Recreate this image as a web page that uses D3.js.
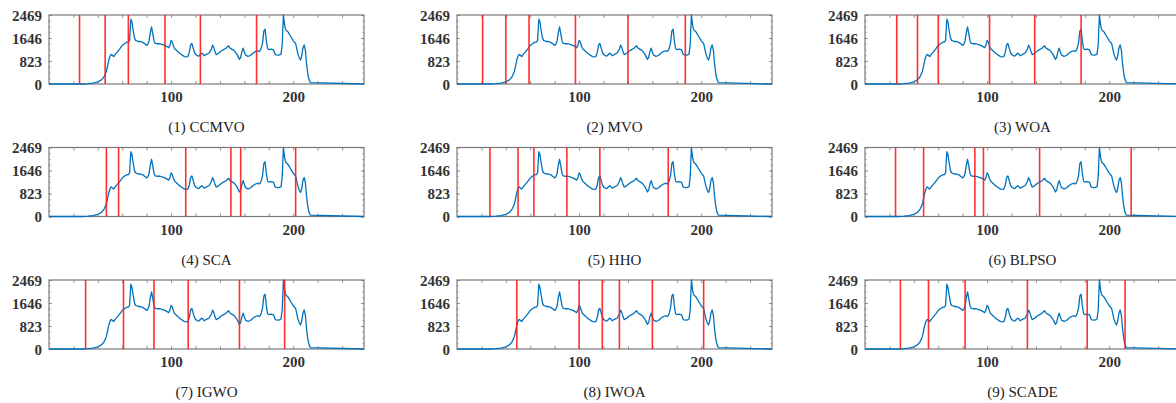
<!DOCTYPE html>
<html>
<head>
<meta charset="utf-8">
<script src="https://cdn.jsdelivr.net/npm/d3@7"></script>
<style>
  html, body { margin: 0; padding: 0; background: #fff; }
  svg { display: block; }
</style>
</head>
<body>
<svg id="chart" width="1176" height="403"></svg>
<script>
// ---------- data ----------
const panelTitles = ["(1) CCMVO", "(2) MVO", "(3) WOA", "(4) SCA", "(5) HHO", "(6) BLPSO", "(7) IGWO", "(8) IWOA", "(9) SCADE"];

const grayLevels = [0, 20, 28, 32, 36, 40, 43, 45, 47, 48, 49, 50, 51, 52, 53, 54, 56, 58, 60, 62, 64, 65, 66, 67, 68, 69, 70, 71, 73, 75, 77, 79, 80, 81, 82, 83, 84, 85, 86, 87, 89, 91, 93, 95, 97, 98, 99, 100, 101, 102, 103, 105, 107, 109, 111, 113, 114, 115, 116, 117, 118, 119, 120, 122, 123, 125, 126, 127, 129, 131, 133, 134, 135, 136, 137, 139, 141, 143, 145, 147, 148, 150, 152, 154, 156, 157, 158, 159, 160, 161, 163, 165, 167, 169, 171, 172, 173, 174, 175, 176, 177, 178, 179, 180, 182, 184, 185, 186, 188, 190, 191, 192, 193, 194, 196, 198, 200, 202, 203, 204, 205, 206, 207, 208, 209, 210, 211, 212, 213, 214, 258];
const pixelCounts = [0, 0, 0, 10, 30, 80, 150, 250, 450, 650, 860, 1000, 1060, 1020, 980, 1050, 1150, 1260, 1380, 1450, 1500, 1500, 1560, 2320, 2200, 1900, 1650, 1560, 1520, 1520, 1480, 1420, 1380, 1420, 1550, 1850, 2040, 1800, 1550, 1450, 1440, 1440, 1410, 1380, 1330, 1300, 1380, 1560, 1500, 1350, 1260, 1180, 1100, 1040, 980, 970, 1000, 1150, 1400, 1450, 1300, 1150, 1060, 1000, 1010, 1100, 1080, 1010, 1060, 1100, 1250, 1390, 1300, 1150, 1050, 1100, 1180, 1230, 1280, 1370, 1300, 1240, 1180, 1060, 880, 950, 1150, 1280, 1150, 1030, 990, 1020, 1100, 1160, 1190, 1160, 1200, 1300, 1500, 1900, 1960, 1550, 1270, 1230, 1250, 1220, 1080, 1040, 1030, 1060, 1400, 2469, 2100, 1930, 1850, 1700, 1550, 1450, 1250, 1060, 930, 860, 1000, 1300, 1395, 1200, 700, 350, 150, 50, 0, 0];

const thrCCMVO = [25, 46, 65, 95, 124, 170];
const thrMVO   = [21, 40, 59, 97, 140, 187];
const thrWOA   = [26, 43, 60, 102, 139, 177];
const thrSCA   = [47, 57, 112, 149, 157, 202];
const thrHHO   = [27, 50, 63, 90, 117, 173];
const thrBLPSO = [25, 48, 90, 97, 143, 218];
const thrIGWO  = [30, 61, 86, 114, 156, 193];
const thrIWOA  = [49, 100, 119, 133, 160, 202];
const thrSCADE = [29, 52, 82, 133, 182, 213];
const thresholdSets = [thrCCMVO, thrMVO, thrWOA, thrSCA, thrHHO, thrBLPSO, thrIGWO, thrIWOA, thrSCADE];

const yTickValues = [0, 823, 1646, 2469];
const xTickLabels = [100, 200];

// ---------- layout ----------
const colLeft = [49, 457, 865];
const rowTop = [15, 147.5, 280];
const pw = 315, ph = 69;

const svg = d3.select("#chart");
const x = d3.scaleLinear().domain([0, 258]).range([0, pw]);
const y = d3.scaleLinear().domain([0, 2469]).range([ph, 0]);

const line = d3.line().x((d, i) => x(grayLevels[i])).y(d => y(d));
const axisColor = "#7a7a7a";
const serif = "'Liberation Serif', 'Times New Roman', serif";

panelTitles.forEach((title, k) => {
  const col = k % 3, row = Math.floor(k / 3);
  const g = svg.append("g").attr("transform", `translate(${colLeft[col]},${rowTop[row]})`);

  const xMinor = d3.range(20, 258, 20);
  const yMinor = d3.range(0, 2469, 2469 / 12);

  const xb = d3.axisBottom(x).tickValues(xMinor).tickSizeInner(-3).tickSizeOuter(0)
    .tickFormat(d => xTickLabels.includes(d) ? d : "");
  const xt = d3.axisTop(x).tickValues(xMinor).tickSizeInner(-3).tickSizeOuter(0).tickFormat("");
  const yl = d3.axisLeft(y).tickValues(yTickValues).tickSizeInner(-3).tickSizeOuter(0).tickFormat(d3.format("d"));
  const yr = d3.axisRight(y).tickValues(yTickValues).tickSizeInner(-3).tickSizeOuter(0).tickFormat("");
  const ylm = d3.axisLeft(y).tickValues(yMinor).tickSizeInner(-1.5).tickSizeOuter(0).tickFormat("");
  const yrm = d3.axisRight(y).tickValues(yMinor).tickSizeInner(-1.5).tickSizeOuter(0).tickFormat("");

  const gxb = g.append("g").attr("transform", `translate(0,${ph})`).call(xb);
  g.append("g").call(xt);
  const gyl = g.append("g").call(yl);
  g.append("g").attr("transform", `translate(${pw},0)`).call(yr);
  g.append("g").call(ylm);
  g.append("g").attr("transform", `translate(${pw},0)`).call(yrm);

  g.selectAll(".domain").remove();
  g.selectAll(".tick line").attr("stroke", axisColor).attr("stroke-width", 0.8);
  g.selectAll(".tick text")
    .attr("font-family", serif)
    .attr("font-weight", "bold").attr("font-size", 15).attr("fill", "#333");
  gxb.selectAll(".tick text").attr("dy", "1.0em");
  gyl.selectAll(".tick text").attr("x", -7).attr("dy", "0.35em");

  // box
  g.append("rect").attr("x", 0).attr("y", 0).attr("width", pw).attr("height", ph)
    .attr("fill", "none").attr("stroke", axisColor).attr("stroke-width", 1.2);

  // histogram line
  g.append("path").datum(pixelCounts)
    .attr("fill", "none").attr("stroke", "#0072BD").attr("stroke-width", 1.3)
    .attr("stroke-linejoin", "round")
    .attr("d", line);

  // thresholds
  g.selectAll("line.thr").data(thresholdSets[k]).enter().append("line")
    .attr("class", "thr")
    .attr("x1", d => x(d)).attr("x2", d => x(d))
    .attr("y1", 0).attr("y2", ph)
    .attr("stroke", "#ff1a1a").attr("stroke-opacity", 0.9).attr("stroke-width", 1.6);

  // title
  g.append("text")
    .attr("x", pw / 2).attr("y", ph + 48)
    .attr("text-anchor", "middle")
    .attr("font-family", serif)
    .attr("font-size", 15).attr("fill", "#222")
    .text(title);
});
</script>
</body>
</html>
